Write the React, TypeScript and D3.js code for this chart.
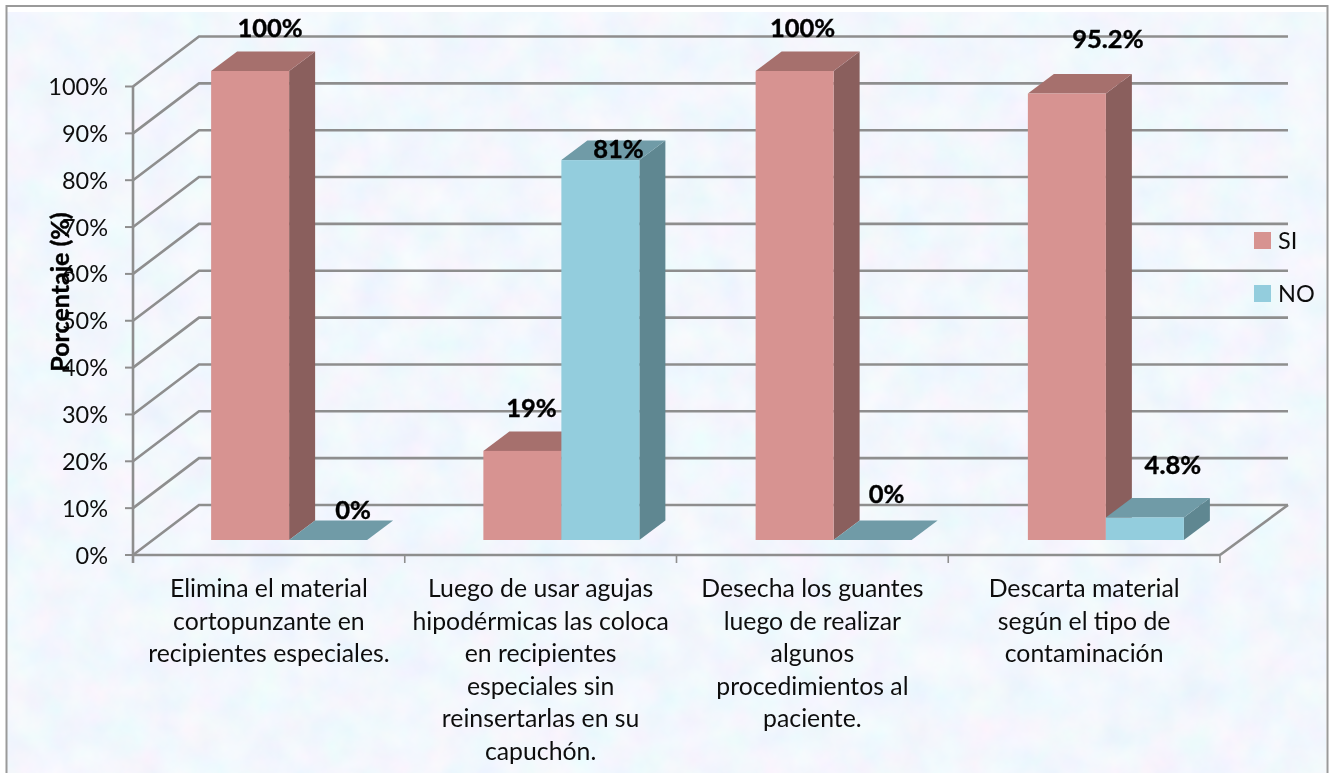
import React from "react";
import * as d3 from "d3";

const categories = [
  "Elimina el material cortopunzante en recipientes especiales.",
  "Luego de usar agujas hipodérmicas las coloca en recipientes especiales sin reinsertarlas en su capuchón.",
  "Desecha los guantes luego de realizar algunos procedimientos al paciente.",
  "Descarta material según el tipo de contaminación",
];
const categoryLines = [
  ["Elimina el material", "cortopunzante en", "recipientes especiales."],
  ["Luego de usar agujas", "hipodérmicas las coloca", "en recipientes", "especiales sin", "reinsertarlas en su", "capuchón."],
  ["Desecha los guantes", "luego de realizar", "algunos", "procedimientos al", "paciente."],
  ["Descarta material", "según el tipo de", "contaminación"],
];
const seriesNames = ["SI", "NO"];
const siValues = [100, 19, 100, 95.2];
const noValues = [0, 81, 0, 4.8];
const siLabels = ["100%", "19%", "100%", "95.2%"];
const noLabels = ["0%", "81%", "0%", "4.8%"];
const yTicks = [0, 10, 20, 30, 40, 50, 60, 70, 80, 90, 100];

// label nudges (manually placed in the original chart): from bar centre / bar top
const siNudge = [[20, -34], [9, -34], [8, -34], [41, -46]];
const noNudge = [[25, -21], [18, -2], [14, -37], [28, -43.5]];

const colors = {
  SI: { front: "#d79391", side: "#8a5f5d", top: "#a66f6d" },
  NO: { front: "#93cddd", side: "#5f8791", top: "#6f9ba7" },
};
const FONT = "Lato, 'Open Sans', sans-serif";
const GRID = "#8e8e8e";

export default function App() {
  const axisY = d3.scaleLinear().domain([0, 100]).range([555, 86.5]);
  const barY = d3.scaleLinear().domain([0, 100]).range([540, 71]);
  const cat = d3.scaleBand<number>().domain(d3.range(categories.length)).range([153, 1242]);
  const catAxis = d3.scaleBand<number>().domain(d3.range(categories.length)).range([133, 1220]);
  const inner = d3.scaleBand<string>().domain(seriesNames).range([0, 156]);
  const barW = inner.bandwidth();
  const dx = 26, dy = 19.5;
  const wallDx = 66, wallDy = 50;

  const bar = (i: number, name: string, v: number) => {
    const c = colors[name as "SI" | "NO"];
    const groupCenter = cat(i)! + cat.bandwidth() / 2;
    const x0 = groupCenter - 78 + inner(name)!;
    const x1 = x0 + barW;
    const yb = barY(0), yt = barY(v);
    return (
      <g key={name + i}>
        <polygon points={`${x1},${yb} ${x1 + dx},${yb - dy} ${x1 + dx},${yt - dy} ${x1},${yt}`} fill={c.side} />
        <polygon points={`${x0},${yt} ${x0 + dx},${yt - dy} ${x1 + dx},${yt - dy} ${x1},${yt}`} fill={c.top} />
        {v > 0 && <rect x={x0} y={yt} width={barW} height={yb - yt} fill={c.front} />}
      </g>
    );
  };

  const label = (i: number, name: string, v: number, text: string, nudge: number[][]) => {
    const groupCenter = cat(i)! + cat.bandwidth() / 2;
    const xc = groupCenter - 78 + inner(name)! + barW / 2 + nudge[i][0];
    const y = barY(v) + nudge[i][1];
    return (
      <text key={"l" + name + i} x={xc} y={y} textAnchor="middle" fontSize={25.5} fontWeight={700} fill="#000" stroke="#000" strokeWidth={0.4}>
        {text}
      </text>
    );
  };

  return (
    <svg width={1334} height={773} style={{ position: "fixed", left: 0, top: 0, background: "#fff" }} fontFamily={FONT}>
      <defs>
        <filter id="paper" x="0" y="0" width="100%" height="100%">
          <feTurbulence type="fractalNoise" baseFrequency="0.028" numOctaves={4} seed={7} result="n" />
          <feColorMatrix
            in="n"
            type="matrix"
            values="0.2 0 0 0 0.79  0 0.12 0 0 0.87  0 0 0.06 0 0.95  0 0 0 0 1"
          />
        </filter>
        <filter id="soft" x="-5%" y="-5%" width="110%" height="110%">
          <feGaussianBlur stdDeviation="0.45" />
        </filter>
      </defs>

      <rect x={7} y={12} width={1319} height={761} filter="url(#paper)" />
      <path d="M6.5,773 V6 H1327.5 V773" fill="none" stroke="#9a9a9a" strokeWidth={2} />

      <g filter="url(#soft)">
        {yTicks.map((t) => {
          const y = axisY(t);
          return (
            <polyline
              key={t}
              points={`133,${y} ${133 + wallDx},${y - wallDy} ${1220 + wallDx + 2},${y - wallDy}`}
              fill="none"
              stroke={GRID}
              strokeWidth={2.6}
            />
          );
        })}
        <line x1={1220} y1={555} x2={1288} y2={505} stroke={GRID} strokeWidth={2.6} />
        <line x1={133} y1={86} x2={133} y2={563} stroke={GRID} strokeWidth={2.6} />
        <line x1={133} y1={555} x2={1220} y2={555} stroke={GRID} strokeWidth={2.6} />
        {yTicks.map((t) => (
          <line key={t} x1={125} x2={133} y1={axisY(t)} y2={axisY(t)} stroke={GRID} strokeWidth={2} />
        ))}
        {d3.range(categories.length + 1).map((i) => {
          const x = i < categories.length ? catAxis(i)! : 1220;
          return <line key={i} x1={x} x2={x} y1={555} y2={563} stroke={GRID} strokeWidth={1.6} />;
        })}

        {categories.map((_, i) => (
          <g key={i}>
            {bar(i, "SI", siValues[i])}
            {bar(i, "NO", noValues[i])}
          </g>
        ))}

        {yTicks.map((t) => (
          <text key={t} x={108} y={axisY(t) + 8.5} textAnchor="end" fontSize={23.5} fill="#111">
            {t}%
          </text>
        ))}

        <text transform="translate(69,292) rotate(-90)" textAnchor="middle" fontSize={25} fontWeight={700} fill="#000" stroke="#000" strokeWidth={0.4}>
          Porcentaje (%)
        </text>

        {categoryLines.map((lines, i) =>
          lines.map((ln, j) => (
            <text
              key={j}
              x={catAxis(i)! + catAxis.bandwidth() / 2}
              y={597 + j * 32.6}
              textAnchor="middle"
              fontSize={24.8}
              fill="#111"
            >
              {ln}
            </text>
          ))
        )}

        {categories.map((_, i) => label(i, "SI", siValues[i], siLabels[i], siNudge))}
        {categories.map((_, i) => label(i, "NO", noValues[i], noLabels[i], noNudge))}

        {seriesNames.map((n, i) => (
          <g key={n}>
            <rect x={1254} y={232 + i * 53} width={17} height={17} fill={colors[n as "SI" | "NO"].front} />
            <text x={1278} y={248.5 + i * 53} fontSize={23.5} fill="#111">
              {n}
            </text>
          </g>
        ))}
      </g>
    </svg>
  );
}
